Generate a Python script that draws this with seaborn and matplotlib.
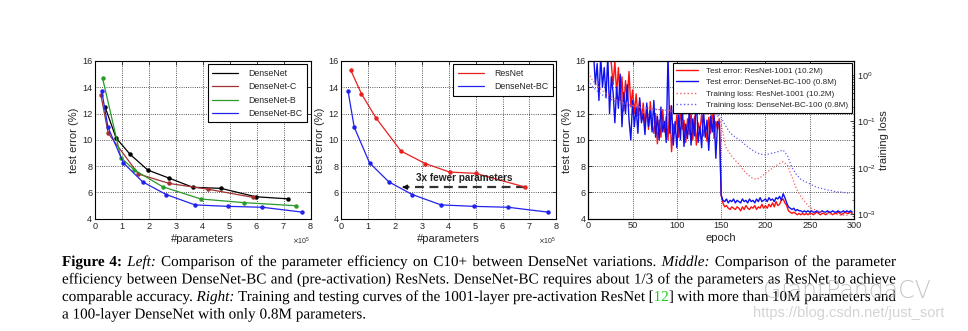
import numpy as np
import pandas as pd
import matplotlib
matplotlib.use("Agg")
import matplotlib.pyplot as plt
import matplotlib.patheffects as pe
import seaborn as sns
from matplotlib.lines import Line2D
from matplotlib.ticker import MultipleLocator

# ---------------- data: left panel ----------------
densenet_params = [0.37e5, 0.78e5, 1.30e5, 1.96e5, 2.73e5, 3.63e5, 4.67e5, 5.96e5, 7.17e5]
densenet_err = [12.52, 10.15, 8.9, 7.7, 7.1, 6.39, 6.31, 5.67, 5.51]
densenet_c_params = [0.22e5, 0.49e5, 1.61e5, 2.76e5, 4.20e5, 5.87e5]
densenet_c_err = [13.4, 10.5, 7.4, 6.68, 6.24, 5.62]
densenet_b_params = [0.28e5, 0.96e5, 1.45e5, 2.51e5, 3.93e5, 5.54e5, 7.44e5]
densenet_b_err = [14.7, 8.65, 7.72, 6.43, 5.5, 5.22, 4.99]
densenet_bc_params = [0.25e5, 0.48e5, 1.05e5, 1.77e5, 2.64e5, 3.71e5, 4.92e5, 6.21e5, 7.69e5]
densenet_bc_err = [13.72, 10.97, 8.25, 6.8, 5.84, 5.05, 4.94, 4.87, 4.5]

# ---------------- data: middle panel ----------------
resnet_params = [0.35e5, 0.75e5, 1.29e5, 2.22e5, 3.12e5, 4.03e5, 5.00e5, 6.85e5]
resnet_err = [15.31, 13.5, 11.67, 9.15, 8.2, 7.55, 7.45, 6.4]
arrow_from = (6.85e5, 6.4)
arrow_to = (2.26e5, 6.4)
arrow_text_pos = (4.58e5, 7.07)

# ---------------- data: right panel ----------------
epochs_err = list(range(0, 300, 2))
resnet1001_test_err = [
    21.0, 20.2, 19.5, 18.8, 19.2, 18.1, 17.6, 18.3, 17.2, 17.8,
    16.9, 17.4, 16.6, 15.8, 14.2, 16.0, 13.5, 15.5, 13.0, 14.8,
    12.2, 14.5, 13.0, 15.2, 12.5, 13.8, 12.0, 13.5, 11.8, 13.0,
    11.5, 12.8, 11.0, 12.5, 10.8, 12.9, 11.2, 10.5, 12.0, 9.7,
    11.5, 10.2, 12.3, 10.6, 11.8, 10.0, 12.6, 9.1, 11.2, 10.5,
    11.9, 10.2, 12.4, 10.8, 11.5, 9.8, 11.6, 10.4, 12.1, 10.0,
    11.8, 9.6, 11.3, 10.6, 12.0, 10.3, 11.0, 9.9, 11.7, 10.5,
    12.6, 10.1, 11.4, 10.8, 11.6, 5.8, 5.2, 4.9, 5.0, 4.8,
    4.7, 4.9, 4.8, 4.7, 4.9, 4.8, 4.6, 4.9, 4.7, 5.0,
    4.8, 4.7, 4.9, 4.8, 5.0, 4.7, 4.9, 4.8, 5.1, 4.8,
    5.0, 4.8, 5.1, 4.9, 5.2, 4.9, 5.3, 5.0, 5.1, 5.4,
    5.5, 5.2, 5.0, 4.6, 4.5, 4.4, 4.5, 4.4, 4.3, 4.4,
    4.3, 4.4, 4.3, 4.4, 4.3, 4.4, 4.4, 4.3, 4.4, 4.5,
    4.4, 4.3, 4.4, 4.4, 4.3, 4.4, 4.5, 4.4, 4.3, 4.4,
    4.4, 4.5, 4.4, 4.3, 4.4, 4.5, 4.4, 4.4, 4.5, 4.4,
]
densenetbc100_test_err = [
    19.0, 18.0, 17.0, 16.5, 14.2, 15.8, 13.0, 16.3, 14.0, 15.5,
    13.2, 16.4, 12.0, 14.8, 13.6, 11.3, 14.0, 12.4, 15.0, 11.0,
    13.6, 12.0, 14.2, 11.5, 10.0, 13.0, 11.0, 12.5, 10.5, 13.2,
    11.3, 12.0, 10.4, 12.8, 11.0, 12.2, 10.6, 13.0, 10.2, 11.8,
    10.0, 12.5, 10.6, 11.4, 9.8, 16.5, 10.5, 12.6, 9.6, 11.4,
    9.4, 11.9, 10.0, 12.8, 9.5, 11.2, 10.1, 12.2, 9.6, 11.6,
    10.3, 13.4, 9.8, 11.0, 9.4, 12.4, 10.2, 11.5, 9.2, 11.8,
    10.6, 12.0, 8.6, 11.4, 11.2, 5.8, 5.4, 5.3, 5.5, 5.2,
    5.4, 5.3, 5.5, 5.2, 5.4, 5.3, 5.2, 5.5, 5.3, 5.4,
    5.2, 5.5, 5.3, 5.4, 5.2, 5.5, 5.3, 5.6, 5.3, 5.4,
    5.5, 5.3, 5.6, 5.4, 5.5, 5.3, 5.6, 5.5, 5.7, 5.4,
    5.9, 5.6, 5.2, 4.9, 4.8, 4.7, 4.8, 4.6, 4.7, 4.6,
    4.6, 4.5, 4.6, 4.5, 4.6, 4.5, 4.6, 4.5, 4.5, 4.6,
    4.5, 4.5, 4.6, 4.5, 4.5, 4.6, 4.5, 4.5, 4.6, 4.5,
    4.5, 4.6, 4.5, 4.5, 4.6, 4.5, 4.6, 4.5, 4.6, 4.5,
]
epochs_loss = list(range(0, 300, 5))
resnet1001_train_loss = [
    1.1, 0.75, 0.58, 0.47, 0.4, 0.34, 0.3, 0.27, 0.25, 0.23,
    0.22, 0.21, 0.2, 0.195, 0.19, 0.185, 0.18, 0.175, 0.17, 0.165,
    0.16, 0.158, 0.155, 0.152, 0.15, 0.148, 0.145, 0.142, 0.14, 0.138,
    0.09, 0.028, 0.02, 0.015, 0.012, 0.0089, 0.0071, 0.006, 0.0056, 0.0063,
    0.0076, 0.0089, 0.0105, 0.012, 0.0135, 0.0112, 0.0063, 0.0035, 0.0024, 0.0018,
    0.0014, 0.00126, 0.00115, 0.00107, 0.00102, 0.001, 0.00098, 0.00095, 0.00095, 0.00093,
]
densenetbc100_train_loss = [
    0.75, 0.55, 0.45, 0.38, 0.33, 0.3, 0.27, 0.25, 0.235, 0.22,
    0.21, 0.2, 0.195, 0.19, 0.185, 0.18, 0.178, 0.175, 0.172, 0.17,
    0.168, 0.165, 0.162, 0.16, 0.158, 0.155, 0.153, 0.15, 0.148, 0.145,
    0.12, 0.08, 0.056, 0.047, 0.04, 0.034, 0.028, 0.024, 0.021, 0.0195,
    0.019, 0.02, 0.021, 0.0224, 0.024, 0.018, 0.01, 0.0071, 0.0056, 0.005,
    0.0045, 0.004, 0.0037, 0.0035, 0.0033, 0.0032, 0.003, 0.003, 0.0029, 0.0028,
]

left_labels = ["DenseNet", "DenseNet-C", "DenseNet-B", "DenseNet-BC"]
left_colors = ["black", "#a33030", "#2a9a2a", "#2222ee"]
mid_labels = ["ResNet", "DenseNet-BC"]
mid_colors = ["#e82020", "#2222ee"]
right_labels = ["Test error: ResNet-1001 (10.2M)", "Test error: DenseNet-BC-100 (0.8M)",
                "Training loss: ResNet-1001 (10.2M)", "Training loss: DenseNet-BC-100 (0.8M)"]

# ---------------- style ----------------
sns.set_style("white")
plt.rcParams["font.family"] = ["Liberation Sans", "DejaVu Sans"]
plt.rcParams["mathtext.fontset"] = "dejavusans"

TICK_FS = 6.6
LABEL_FS = 8
LEG_FS = 6.3

fig = plt.figure(figsize=(9.68, 3.31), dpi=100)
W, H = 968, 331


def ax_rect(l, t, r, b):
    return [l / W, 1 - b / H, (r - l) / W, (b - t) / H]


ax1 = fig.add_axes(ax_rect(95, 61, 310.7, 218.7))
ax2 = fig.add_axes(ax_rect(341.3, 61, 556.3, 218.7))
ax3 = fig.add_axes(ax_rect(588.3, 61, 854, 218.7))


def style_axes(ax, both_sides=True):
    for s in ax.spines.values():
        s.set_color("black")
        s.set_linewidth(0.8)
    ax.grid(True, linestyle=":", color="#222222", linewidth=0.6)
    ax.tick_params(direction="in", length=3, width=0.6, labelsize=TICK_FS,
                   top=True, right=both_sides, pad=2)


# ---- left ----
df_left = pd.concat([
    pd.DataFrame({"params": densenet_params, "err": densenet_err, "model": "DenseNet"}),
    pd.DataFrame({"params": densenet_c_params, "err": densenet_c_err, "model": "DenseNet-C"}),
    pd.DataFrame({"params": densenet_b_params, "err": densenet_b_err, "model": "DenseNet-B"}),
    pd.DataFrame({"params": densenet_bc_params, "err": densenet_bc_err, "model": "DenseNet-BC"}),
], ignore_index=True)
sns.lineplot(data=df_left, x="params", y="err", hue="model", hue_order=left_labels,
             palette=dict(zip(left_labels, left_colors)), marker="o", markersize=3.2,
             markeredgewidth=0, linewidth=0.9, estimator=None, sort=False, legend=False, ax=ax1)

# ---- middle ----
df_mid = pd.concat([
    pd.DataFrame({"params": resnet_params, "err": resnet_err, "model": "ResNet"}),
    pd.DataFrame({"params": densenet_bc_params, "err": densenet_bc_err, "model": "DenseNet-BC"}),
], ignore_index=True)
sns.lineplot(data=df_mid, x="params", y="err", hue="model", hue_order=mid_labels,
             palette=dict(zip(mid_labels, mid_colors)), marker="o", markersize=3.2,
             markeredgewidth=0, linewidth=0.9, estimator=None, sort=False, legend=False, ax=ax2)

for ax, labels, colors in [(ax1, left_labels, left_colors), (ax2, mid_labels, mid_colors)]:
    style_axes(ax)
    ax.set_xlim(0, 8e5)
    ax.set_ylim(4, 16)
    ax.xaxis.set_major_locator(MultipleLocator(1e5))
    ax.yaxis.set_major_locator(MultipleLocator(2))
    ax.ticklabel_format(axis="x", style="sci", scilimits=(5, 5), useMathText=True)
    ax.xaxis.get_offset_text().set_fontsize(5)
    ax.set_xlabel("#parameters", fontsize=LABEL_FS, labelpad=1.5)
    ax.set_ylabel("test error (%)", fontsize=LABEL_FS, labelpad=2)
    handles = [Line2D([], [], color=c, lw=0.9) for c in colors]
    leg = ax.legend(handles, labels, loc="upper right", fontsize=LEG_FS, frameon=True,
                    fancybox=False, edgecolor="black", framealpha=1, borderaxespad=0.4,
                    handlelength=3.0, handletextpad=1.2, labelspacing=0.5, borderpad=0.5)
    leg.get_frame().set_linewidth(0.8)

# annotation in the middle panel
ax2.plot([arrow_from[0], arrow_to[0] + 0.15e5], [arrow_from[1], arrow_to[1]],
         linestyle=(0, (4, 2.5)), color="#333333", lw=1.6, zorder=1)
ax2.annotate("", xy=arrow_to, xytext=(arrow_to[0] + 0.2e5, arrow_to[1]),
             arrowprops=dict(arrowstyle="-|>", color="#111111", lw=1.0, mutation_scale=7))
ax2.text(arrow_text_pos[0], arrow_text_pos[1], "3x fewer parameters", fontsize=7.2,
         fontweight="bold", ha="center", va="center", color="#222222")

# ---- right ----
df_err = pd.concat([
    pd.DataFrame({"epoch": epochs_err, "val": resnet1001_test_err, "curve": right_labels[0]}),
    pd.DataFrame({"epoch": epochs_err, "val": densenetbc100_test_err, "curve": right_labels[1]}),
], ignore_index=True)
df_loss = pd.concat([
    pd.DataFrame({"epoch": epochs_loss, "val": resnet1001_train_loss, "curve": right_labels[2]}),
    pd.DataFrame({"epoch": epochs_loss, "val": densenetbc100_train_loss, "curve": right_labels[3]}),
], ignore_index=True)
right_colors = ["#ff1010", "#1010ee", "#f06060", "#6060f0"]
sns.lineplot(data=df_err, x="epoch", y="val", hue="curve", hue_order=right_labels[:2],
             palette=dict(zip(right_labels[:2], right_colors[:2])), linewidth=1.0,
             estimator=None, sort=False, legend=False, ax=ax3)
style_axes(ax3, both_sides=False)
ax3.set_xlim(0, 300)
ax3.set_ylim(4, 16)
ax3.xaxis.set_major_locator(MultipleLocator(50))
ax3.yaxis.set_major_locator(MultipleLocator(2))
ax3.set_xlabel("epoch", fontsize=LABEL_FS, labelpad=1.5)
ax3.set_ylabel("test error (%)", fontsize=LABEL_FS, labelpad=2)

ax3b = ax3.twinx()
sns.lineplot(data=df_loss, x="epoch", y="val", hue="curve", hue_order=right_labels[2:],
             palette=dict(zip(right_labels[2:], right_colors[2:])), linewidth=0.9,
             linestyle=":", estimator=None, sort=False, legend=False, ax=ax3b)
ax3b.set_yscale("log")
ax3b.set_ylim(10 ** -3.1, 10 ** 0.3)
ax3b.set_xlim(0, 300)
ax3b.set_ylabel("training loss", fontsize=LABEL_FS, labelpad=2)
ax3b.tick_params(axis="y", which="both", direction="in", labelsize=TICK_FS, pad=2)
ax3b.tick_params(axis="y", which="major", length=3, width=0.6)
ax3b.tick_params(axis="y", which="minor", length=1.5, width=0.5)
for s in ax3b.spines.values():
    s.set_color("black")
    s.set_linewidth(0.8)

styles = ["-", "-", ":", ":"]
handles = [Line2D([], [], color=c, lw=1.0, linestyle=st) for c, st in zip(right_colors, styles)]
leg = ax3b.legend(handles, right_labels, loc="upper right", fontsize=5.9, frameon=True,
                  fancybox=False, edgecolor="black", framealpha=1, borderaxespad=0.3,
                  handlelength=2.6, handletextpad=1.0, labelspacing=0.45, borderpad=0.45)
leg.get_frame().set_linewidth(0.8)

# ---------------- caption ----------------
caption_lines = [
    [[("Figure", "b")], [("4:", "b")], [("Left:", "i")], [("Comparison", "n")], [("of", "n")],
     [("the", "n")], [("parameter", "n")], [("efficiency", "n")], [("on", "n")], [("C10+", "n")],
     [("between", "n")], [("DenseNet", "n")], [("variations.", "n")], [("Middle:", "i")],
     [("Comparison", "n")], [("of", "n")], [("the", "n")], [("parameter", "n")]],
    [[(w, "n")] for w in "efficiency between DenseNet-BC and (pre-activation) ResNets. DenseNet-BC requires about 1/3 of the parameters as ResNet to achieve".split()],
    [[("comparable", "n")], [("accuracy.", "n")], [("Right:", "i")]]
    + [[(w, "n")] for w in "Training and testing curves of the 1001-layer pre-activation ResNet".split()]
    + [[("[", "n"), ("12", "g"), ("]", "n")]]
    + [[(w, "n")] for w in "with more than 10M parameters and".split()],
    [[(w, "n")] for w in "a 100-layer DenseNet with only 0.8M parameters.".split()],
]
caption_baselines = [266.0, 283.5, 301.0, 318.5]
caption_justify = [True, True, True, False]
CAP_X0, CAP_X1 = 62, 896
CAP_FS = 10.9

fig.canvas.draw()
renderer = fig.canvas.get_renderer()


def make_piece(txt, st):
    kw = dict(fontsize=CAP_FS, family=["Liberation Serif", "DejaVu Serif"], va="baseline",
              ha="left", color="black", path_effects=[pe.Normal()])
    if st == "b":
        kw["weight"] = "bold"
    if st == "i":
        kw["style"] = "italic"
    if st == "g":
        kw["color"] = "#22cc22"
    return fig.text(0, 0, txt, **kw)


space_px = 0.25 * CAP_FS * 100 / 72
for line, yb, just in zip(caption_lines, caption_baselines, caption_justify):
    words = [[make_piece(t, s) for t, s in w] for w in line]
    widths = [[p.get_window_extent(renderer=renderer).width for p in w] for w in words]
    total = sum(sum(w) for w in widths)
    gap = (CAP_X1 - CAP_X0 - total) / (len(words) - 1) if just else space_px
    x = CAP_X0
    for w, ws in zip(words, widths):
        for p, pw in zip(w, ws):
            p.set_position((x / W, 1 - yb / H))
            x += pw
        x += gap

# watermark
fig.text(763 / W, 1 - 291 / H, "GiantPandaCV", fontsize=17, color="#b8b8b8", alpha=0.8,
         ha="left", va="center", family=["DejaVu Sans"], fontweight="light")
fig.text(753 / W, 1 - 313 / H, "https://blog.csdn.net/just_sort", fontsize=10.5,
         color="#d4d4d4", ha="left", va="center", family=["Liberation Sans", "DejaVu Sans"])

fig.savefig("out.png", dpi=100)
